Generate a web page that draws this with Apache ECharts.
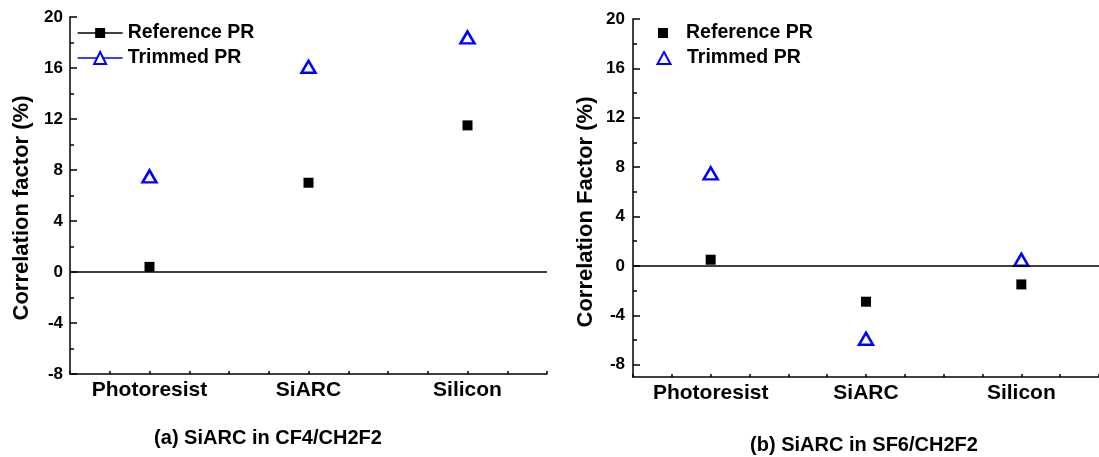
<!DOCTYPE html>
<html><head><meta charset="utf-8">
<script src="https://cdn.jsdelivr.net/npm/echarts@6/dist/echarts.min.js"></script>
<style>html,body{margin:0;padding:0;background:#fff}#c{width:1099px;height:457px}</style>
</head><body><div id="c"></div>
<script>
// ---- data ----
const categories = ['Photoresist', 'SiARC', 'Silicon'];
const categoryPos = [1, 2, 3];
const refA = [0.4, 7.0, 11.5];      // (a) Reference PR
const trimA = [7.5, 16.1, 18.4];    // (a) Trimmed PR
const refB = [0.5, -2.9, -1.5];     // (b) Reference PR
const trimB = [7.5, -5.9, 0.5];     // (b) Trimmed PR
const yLabelsB = [-8, -4, 0, 4, 8, 12, 16, 20];
const yMinorB = [-6, -2, 2, 6, 10, 14, 18];
const seriesNames = ['Reference PR', 'Trimmed PR'];
const yTitleA = 'Correlation factor (%)';
const yTitleB = 'Correlation Factor (%)';
const subTitleA = '(a) SiARC in CF4/CH2F2';
const subTitleB = '(b) SiARC in SF6/CH2F2';

const FONT = '"Liberation Sans", Arial, Helvetica, sans-serif';
const BLACK = '#000';
const BLUE = '#0000ff';
const pts = (vals) => vals.map((v, i) => [categoryPos[i], v]);

const axisLine = { show: true, onZero: false, lineStyle: { color: BLACK, width: 1.5 } };
const tickStyle = { color: BLACK, width: 1.5 };
const yLabel = { color: BLACK, fontFamily: FONT, fontWeight: 'bold', fontSize: 17, margin: 7 };
const legendText = { color: BLACK, fontFamily: FONT, fontWeight: 'bold', fontSize: 19.5 };

function xAxis(gridIndex) {
  return {
    type: 'value', gridIndex, min: 0.5, max: 3.5, interval: 0.25,
    axisLine,
    axisTick: { show: true, inside: true, length: 3, lineStyle: tickStyle },
    splitLine: { show: false },
    axisLabel: {
      customValues: categoryPos,
      formatter: (v) => categories[Math.round(v) - 1] || '',
      color: BLACK, fontFamily: FONT, fontWeight: 'bold', fontSize: 21, margin: 6
    }
  };
}

const zeroLine = {
  silent: true, symbol: 'none', label: { show: false },
  lineStyle: { color: BLACK, type: 'solid', width: 1.5 },
  emphasis: { disabled: true },
  data: [{ yAxis: 0 }]
};

const squareStyle = { color: BLACK, opacity: 1 };
const triStyle = { color: '#fff', borderColor: BLUE, borderWidth: 2.5, opacity: 1 };

const option = {
  animation: false,
  backgroundColor: '#fff',
  grid: [
    { left: 70, top: 17, width: 477, height: 357 },
    { left: 633, top: 19, width: 476, height: 358 }
  ],
  xAxis: [xAxis(0), xAxis(1)],
  yAxis: [
    {
      type: 'value', gridIndex: 0, min: -8, max: 20, interval: 4, position: 'left',
      axisLine,
      axisTick: { show: true, inside: true, length: 7, lineStyle: tickStyle },
      minorTick: { show: true, splitNumber: 2, length: 4, lineStyle: tickStyle },
      splitLine: { show: false }, minorSplitLine: { show: false },
      axisLabel: yLabel
    },
    {
      type: 'value', gridIndex: 1, min: -9, max: 20, position: 'left',
      axisLine,
      axisTick: { show: true, inside: true, length: 7, lineStyle: tickStyle, customValues: yLabelsB },
      splitLine: { show: false },
      axisLabel: Object.assign({}, yLabel, { customValues: yLabelsB, margin: 8 })
    },
    {
      type: 'value', gridIndex: 1, min: -9, max: 20, position: 'left', offset: 0,
      axisLine: { show: false },
      axisTick: { show: true, inside: true, length: 4, lineStyle: tickStyle, customValues: yMinorB },
      splitLine: { show: false },
      axisLabel: { show: false }
    }
  ],
  legend: [
    {
      data: ['a:' + seriesNames[0]], left: 77, top: 23, padding: 0, itemWidth: 45, itemHeight: 12.5, itemGap: 0,
      formatter: (n) => n.slice(2), lineStyle: { width: 1.3 },
      textStyle: legendText, selectedMode: false
    },
    {
      data: ['a:' + seriesNames[1]], left: 77, top: 48, padding: 0, itemWidth: 45, itemHeight: 15, itemGap: 0,
      formatter: (n) => n.slice(2), lineStyle: { width: 1.3 },
      textStyle: legendText, selectedMode: false
    },
    {
      data: ['b:' + seriesNames[0]], left: 658, top: 23, padding: 0, itemWidth: 10, itemHeight: 10, itemGap: 0,
      formatter: (n) => n.slice(2),
      textStyle: Object.assign({}, legendText, { padding: [0, 0, 0, 13] }), selectedMode: false
    },
    {
      data: ['b:' + seriesNames[1]], left: 656.5, top: 48, padding: 0, itemWidth: 13, itemHeight: 12, itemGap: 0,
      formatter: (n) => n.slice(2),
      textStyle: Object.assign({}, legendText, { padding: [0, 0, 0, 11.5] }), selectedMode: false
    }
  ],
  series: [
    {
      name: 'a:' + seriesNames[0], type: 'line', xAxisIndex: 0, yAxisIndex: 0,
      data: pts(refA), symbol: 'rect', symbolSize: 10, showSymbol: true,
      itemStyle: squareStyle, lineStyle: { width: 0, color: BLACK },
      emphasis: { disabled: true }, markLine: zeroLine, z: 3
    },
    {
      name: 'a:' + seriesNames[1], type: 'line', xAxisIndex: 0, yAxisIndex: 0,
      data: pts(trimA), symbol: 'triangle', symbolSize: [14, 12], showSymbol: true,
      itemStyle: triStyle, lineStyle: { width: 0, color: BLUE },
      emphasis: { disabled: true }, z: 3
    },
    {
      name: 'b:' + seriesNames[0], type: 'scatter', xAxisIndex: 1, yAxisIndex: 1,
      data: pts(refB), symbol: 'rect', symbolSize: 10,
      itemStyle: squareStyle, emphasis: { disabled: true }, markLine: zeroLine, z: 3
    },
    {
      name: 'b:' + seriesNames[1], type: 'scatter', xAxisIndex: 1, yAxisIndex: 1,
      data: pts(trimB), symbol: 'triangle', symbolSize: [14, 12],
      itemStyle: triStyle, emphasis: { disabled: true }, z: 3
    }
  ],
  graphic: [
    { type: 'text', x: 22, y: 208, rotation: Math.PI / 2,
      style: { text: yTitleA, font: 'bold 22px ' + FONT, fill: BLACK, align: 'center', verticalAlign: 'middle' } },
    { type: 'text', x: 586, y: 212, rotation: Math.PI / 2,
      style: { text: yTitleB, font: 'bold 22px ' + FONT, fill: BLACK, align: 'center', verticalAlign: 'middle' } },
    { type: 'text', x: 268, y: 438,
      style: { text: subTitleA, font: 'bold 20px ' + FONT, fill: BLACK, align: 'center', verticalAlign: 'middle' } },
    { type: 'text', x: 864, y: 445,
      style: { text: subTitleB, font: 'bold 20px ' + FONT, fill: BLACK, align: 'center', verticalAlign: 'middle' } }
  ]
};

const chart = echarts.init(document.getElementById('c'), null, { renderer: 'canvas' });
chart.setOption(option);
</script>
</body></html>
